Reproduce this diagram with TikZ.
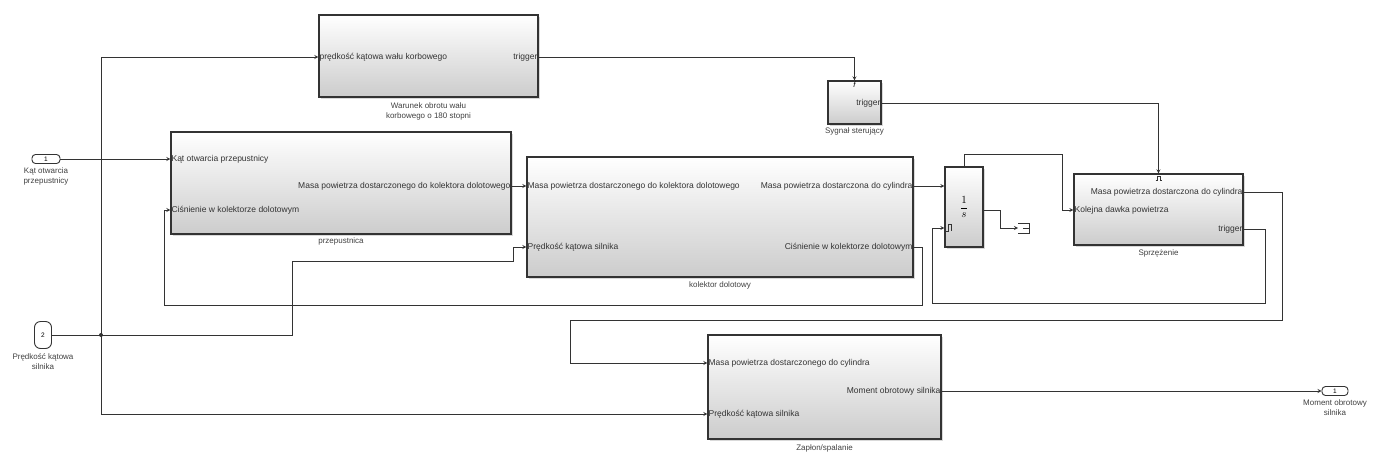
\documentclass[tikz,border=0pt]{standalone}
\usepackage{fontspec}
\setmainfont{Liberation Sans}
\usetikzlibrary{shadows}
\tikzset{>=stealth}
\tikzset{
  blok/.style={draw=black!80, line width=1.2pt, top color=white, bottom color=black!20,
    drop shadow={opacity=0.3, shadow xshift=1.5pt, shadow yshift=-1.5pt}},
  portio/.style={draw=black!80, line width=0.9pt, rounded corners=3.5pt, fill=white,
    font=\fontsize{6.5}{7}\selectfont, inner sep=0pt},
  wej/.style={inner sep=1pt, anchor=west, font=\fontsize{8.5}{10}\selectfont, text=black!80},
  wyj/.style={inner sep=1pt, anchor=east, font=\fontsize{8.5}{10}\selectfont, text=black!80},
  podpis/.style={anchor=north, align=center, inner sep=0pt, font=\fontsize{8}{10}\selectfont, text=black!75},
  sig/.style={->, draw=black!80, line width=0.8pt},
  linia/.style={draw=black!80, line width=0.8pt}
}
\begin{document}
\begin{tikzpicture}[x=1pt, y=-1pt]
    \useasboundingbox (0,0) rectangle (1373,464);
    % bloki
    \node[blok, minimum width=219pt, minimum height=82pt] (warunek) at (428.5,56) {};
    \node[blok, minimum width=53pt, minimum height=43pt] (sygnal) at (854.5,102.5) {};
    \node[blok, minimum width=340pt, minimum height=102pt] (przep) at (341,183) {};
    \node[blok, minimum width=386pt, minimum height=120pt] (kolektor) at (720,217) {};
    \node[blok, minimum width=38pt, minimum height=80pt, font=\fontsize{11}{13}\selectfont] (integ) at (964,207) {$\displaystyle\frac{1}{s}$};
    \node[blok, minimum width=169pt, minimum height=71pt] (sprz) at (1158.5,209.5) {};
    \node[blok, minimum width=233pt, minimum height=104pt] (zaplon) at (824.5,387) {};
    % porty
    \node[portio, minimum width=28pt, minimum height=9pt] (in1) at (46,159) {1};
    \node[portio, minimum width=17pt, minimum height=27pt, rounded corners=6pt] (in2) at (43,335) {2};
    \node[portio, minimum width=26pt, minimum height=9pt] (out1) at (1335,391) {1};
    \node[podpis] (in1L) at ([yshift=-4pt]in1.south) {Kąt otwarcia\\przepustnicy};
    \node[podpis] (in2L) at ([yshift=-4pt]in2.south) {Prędkość kątowa\\silnika};
    \node[podpis] (out1L) at ([yshift=-4pt]out1.south) {Moment obrotowy\\silnika};
    % napisy portow
    \node[wej] (warP) at (warunek.west |- 0,57) {prędkość kątowa  wału korbowego};
    \node[wyj] (warT) at (warunek.east |- 0,57) {trigger};
    \node[wyj] (sygT) at (sygnal.east |- 0,103) {trigger};
    \node[wej] (przK) at (przep.west |- 0,159) {Kąt otwarcia  przepustnicy};
    \node[wej] (przC) at (przep.west |- 0,210) {Ciśnienie w kolektorze dolotowym};
    \node[wyj] (przM) at (przep.east |- 0,186) {Masa powietrza  dostarczonego do  kolektora dolotowego};
    \node[wej] (kolM) at (kolektor.west |- 0,186) {Masa powietrza  dostarczonego do kolektora dolotowego};
    \node[wej] (kolP) at (kolektor.west |- 0,247) {Prędkość kątowa silnika};
    \node[wyj] (kolW) at (kolektor.east |- 0,186) {Masa powietrza  dostarczona do cylindra};
    \node[wyj] (kolC) at (kolektor.east |- 0,247) {Ciśnienie  w kolektorze dolotowym};
    \node[wyj] (sprzM) at (sprz.east |- 0,192) {Masa powietrza dostarczona do cylindra};
    \node[wej] (sprzK) at (sprz.west |- 0,210) {Kolejna dawka powietrza};
    \node[wyj] (sprzT) at (sprz.east |- 0,229) {trigger};
    \node[wej] (zapM) at (zaplon.west |- 0,363) {Masa powietrza dostarczonego  do cylindra};
    \node[wej] (zapP) at (zaplon.west |- 0,414) {Prędkość kątowa silnika};
    \node[wyj] (zapO) at (zaplon.east |- 0,391) {Moment obrotowy  silnika};
    % podpisy blokow
    \node[podpis] (warunekL) at ([yshift=-5pt]warunek.south) {Warunek obrotu wału\\korbowego o 180 stopni};
    \node[podpis] (sygnalL) at ([yshift=-3pt]sygnal.south) {Sygnał sterujący};
    \node[podpis] (przepL) at ([yshift=-3pt]przep.south) {przepustnica};
    \node[podpis] (kolektorL) at ([yshift=-4pt]kolektor.south) {kolektor dolotowy};
    \node[podpis] (sprzL) at ([yshift=-4pt]sprz.south) {Sprzężenie};
    \node[podpis] (zaplonL) at ([yshift=-5pt]zaplon.south) {Zapłon/spalanie};
    % znaczniki wyzwalania
    \node[anchor=north, inner sep=1pt, font=\fontsize{7.5}{8}\selectfont\itshape] (sygF) at (sygnal.north) {f};
    \draw[linia, line width=0.5pt] ([xshift=-3pt, yshift=-7pt]sprz.north) -- ++(1.5,0) -- ++(0,-4) -- ++(3,0) -- ++(0,4) -- ++(1.5,0);
    \coordinate (integR) at (integ.west |- 0,228);
    \draw[linia, line width=0.5pt] ([xshift=2pt]integR) ++(0,3) -- ++(1.5,0) -- ++(0,-7) -- ++(3,0) -- ++(0,7);
    % terminator
    \coordinate (term) at (1018,228);
    \draw[linia] (term) ++(0,-5) -- ++(11,0) -- ++(0,10) -- ++(-11,0);
    \draw[linia] (term) ++(5,0) -- ++(6,0);
    % polaczenia
    \coordinate (j) at (101,335);
    \draw[sig] (in1.east) -- (przK.west);
    \draw[sig] (in2.east) -- (292,335) -- (292,261) -- (513,261) -- (513,247) -- (kolP.west);
    \draw[sig] (j) |- (warP.west);
    \draw[sig] (j) |- (zapP.west);
    \fill[black!80] (j) circle (2pt);
    \draw[sig] (warT.east) -| (sygnal.north);
    \draw[sig] (sygT.east) -| (sprz.north);
    \draw[sig] (przM.east) -- (kolM.west);
    \draw[sig] (kolC.east) -- (922,247) -- (922,305) -- (164,305) |- (przC.west);
    \draw[sig] (kolW.east) -- (integ.west |- kolW.east);
    \draw[sig] (sprzT.east) -- (1265,229) -- (1265,303) -- (932,303) |- (integR);
    \draw[sig] (integ.north) |- (1062,154) |- (sprzK.west);
    \draw[sig] (integ.east |- 0,210) -- (1000,210) |- (term);
    \draw[sig] (sprzM.east) -- (1282,192) |- (570,320) |- (zapM.west);
    \draw[sig] (zapO.east) -- (out1.west);
\end{tikzpicture}
\end{document}
